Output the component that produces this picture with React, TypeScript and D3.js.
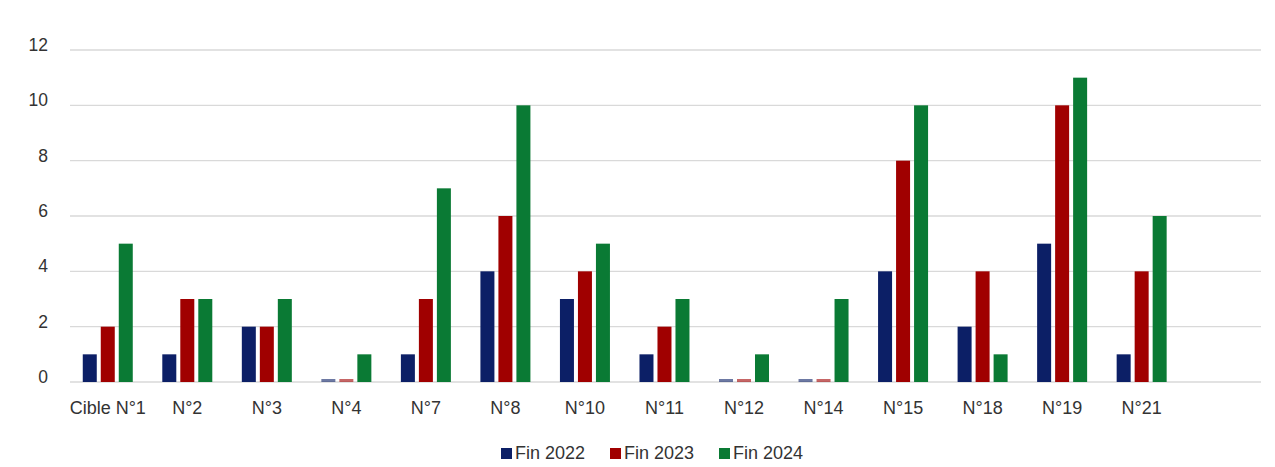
import React from "react";
import * as d3 from "d3";

// Targets and yearly counts
const categories = ["Cible N°1", "N°2", "N°3", "N°4", "N°7", "N°8", "N°10", "N°11", "N°12", "N°14", "N°15", "N°18", "N°19", "N°21"];
const seriesNames = ["Fin 2022", "Fin 2023", "Fin 2024"];
const fin2022 = [1, 1, 2, 0, 1, 4, 3, 1, 0, 0, 4, 2, 5, 1];
const fin2023 = [2, 3, 2, 0, 3, 6, 4, 2, 0, 0, 8, 4, 10, 4];
const fin2024 = [5, 3, 3, 1, 7, 10, 5, 3, 1, 3, 10, 1, 11, 6];
const yTicks = [0, 2, 4, 6, 8, 10, 12];

const seriesValues = [fin2022, fin2023, fin2024];
const colors = ["#0c1f66", "#a00000", "#0a7a34"];

const W = 1275;
const H = 467;
const left = 68;
const step = 79.53;
const gridRight = 1261;
const y0 = 382;
const yTop = 50;

export default function App() {
  const x = d3
    .scaleBand<string>()
    .domain(categories)
    .range([left, left + step * categories.length])
    .padding(0);
  const bw = x.bandwidth();
  const inner = d3
    .scaleBand<string>()
    .domain(seriesNames)
    .range([bw / 2 - 25, bw / 2 + 25])
    .paddingInner(4 / 18)
    .paddingOuter(0);
  const y = d3.scaleLinear().domain([0, 12]).range([y0, yTop]);

  const font = "'Liberation Sans', Arial, sans-serif";
  const legendX = [501, 610, 719];

  return (
    <svg
      width={W}
      height={H}
      style={{ position: "absolute", left: 0, top: 0, background: "#fff" }}
      fontFamily={font}
    >
      <rect x={0} y={0} width={W} height={H} fill="#fff" />
      {yTicks.map((t) => (
        <g key={t}>
          <line x1={70} x2={gridRight} y1={y(t)} y2={y(t)} stroke="#d9d9d9" strokeWidth={1.3} />
          <text x={48} y={y(t) - 3.5} textAnchor="end" dominantBaseline="middle" fontSize={17.5} fill="#333">
            {t}
          </text>
        </g>
      ))}
      {categories.map((c, i) => (
        <g key={c} transform={`translate(${x(c)},0)`}>
          {seriesNames.map((s, j) => {
            const v = seriesValues[j][i];
            const h = Math.max(y0 - y(v), 3);
            return (
              <rect
                key={s}
                x={inner(s)}
                y={y0 - h}
                width={inner.bandwidth()}
                height={h}
                fill={colors[j]}
                opacity={v === 0 ? 0.6 : 1}
              />
            );
          })}
          <text x={bw / 2} y={414} textAnchor="middle" fontSize={18} fill="#333">
            {c}
          </text>
        </g>
      ))}
      {seriesNames.map((s, j) => (
        <g key={s} transform={`translate(${legendX[j]},0)`}>
          <rect x={0} y={448} width={11} height={11} fill={colors[j]} />
          <text x={14} y={459} fontSize={18} fill="#333">
            {s}
          </text>
        </g>
      ))}
    </svg>
  );
}
